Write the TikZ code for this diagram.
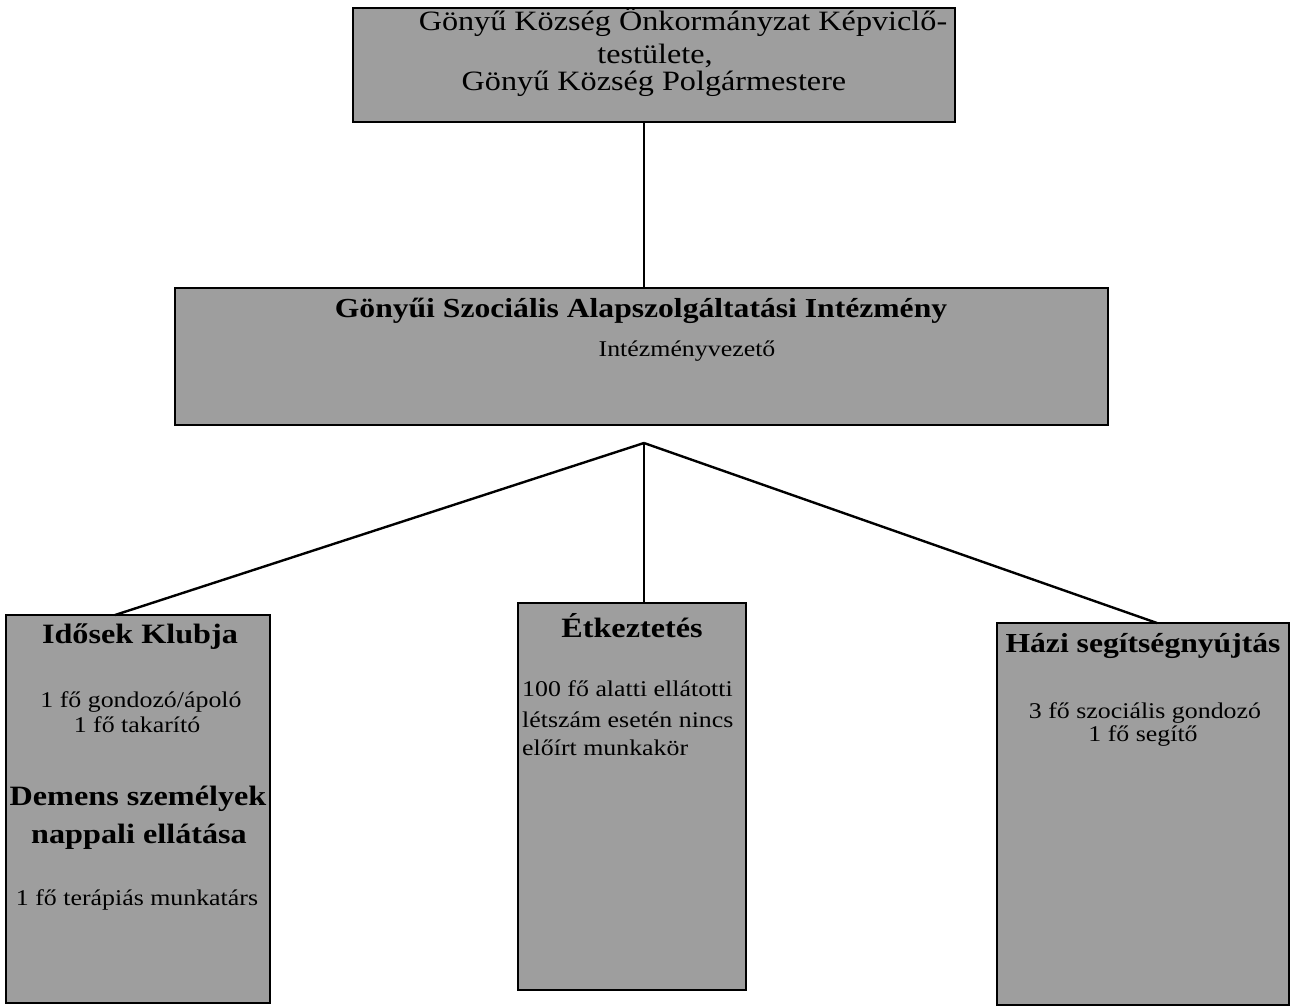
\documentclass[tikz,border=0pt]{standalone}
\usepackage{fontspec}
\setmainfont{Liberation Serif}[FakeStretch=1.15]
\usetikzlibrary{calc}
\definecolor{boxgray}{RGB}{158,158,158}
\begin{document}
\begin{tikzpicture}[x=1pt,y=-1pt,
  box/.style={draw=black, line width=2.6pt, fill=boxgray, anchor=north west, inner sep=0pt, outer sep=0pt},
  conn/.style={draw=black, line width=2.4pt},
  txt/.style={inner sep=0pt, font=\fontsize{22.5}{24}\selectfont},
  toptxt/.style={inner sep=0pt, font=\fontsize{28}{30}\selectfont},
  hd/.style={inner sep=0pt, font=\bfseries\fontsize{28}{30}\selectfont}]
\useasboundingbox (0,0) rectangle (1295,1007);

% boxes
\node[box, minimum width=602pt, minimum height=114pt] (top) at (353,8) {};
\node[box, minimum width=933pt, minimum height=137pt] (inst) at (175,288) {};
\node[box, minimum width=264pt, minimum height=388pt] (klub) at (6,615) {};
\node[box, minimum width=228pt, minimum height=387pt] (etk) at (518,603) {};
\node[box, minimum width=292pt, minimum height=382pt] (hazi) at (997,623) {};

% connector coordinates
\coordinate (apex) at (644,443);
\coordinate (kl) at (115,615);
\coordinate (hz) at (1157,623);

% connectors
\draw[conn] (top.south -| apex) -- (inst.north -| apex);
\draw[conn] (apex) -- (klub.north -| kl);
\draw[conn] (apex) -- (etk.north -| apex);
\draw[conn] (apex) -- (hazi.north -| hz);

% top box text
\node[toptxt] (t1) at (683,22) {Gönyű Község Önkormányzat Képviclő-};
\node[toptxt] (t2) at (655,56) {testülete,};
\node[toptxt] (t3) at (654,84) {Gönyű Község Polgármestere};

% institution text
\node[hd, font=\bfseries\fontsize{27.5}{30}\selectfont] (i1) at (641,311) {Gönyűi Szociális Alapszolgáltatási Intézmény};
\node[txt] (i2) at (687,351) {Intézményvezető};

% left box
\node[hd] (k1) at (140,637) {Idősek Klubja};
\node[txt] (k2) at (141,702) {1 fő gondozó/ápoló};
\node[txt] (k3) at (137,725) {1 fő takarító};
\node[hd] (k4) at (138,799) {Demens személyek};
\node[hd] (k5) at (139,837) {nappali ellátása};
\node[txt] (k6) at (137,900) {1 fő terápiás munkatárs};

% middle box
\node[hd] (e1) at (632,626) {Étkeztetés};
\node[txt, anchor=west] (e2) at (522,689) {100 fő alatti ellátotti};
\node[txt, anchor=west] (e3) at (522,720) {létszám esetén nincs};
\node[txt, anchor=west] (e4) at (522,748) {előírt munkakör};

% right box
\node[hd, font=\bfseries\fontsize{27.5}{30}\selectfont] (h1) at (1143,646) {Házi segítségnyújtás};
\node[txt] (h2) at (1145,713) {3 fő szociális gondozó};
\node[txt] (h3) at (1143,736) {1 fő segítő};
\end{tikzpicture}
\end{document}
